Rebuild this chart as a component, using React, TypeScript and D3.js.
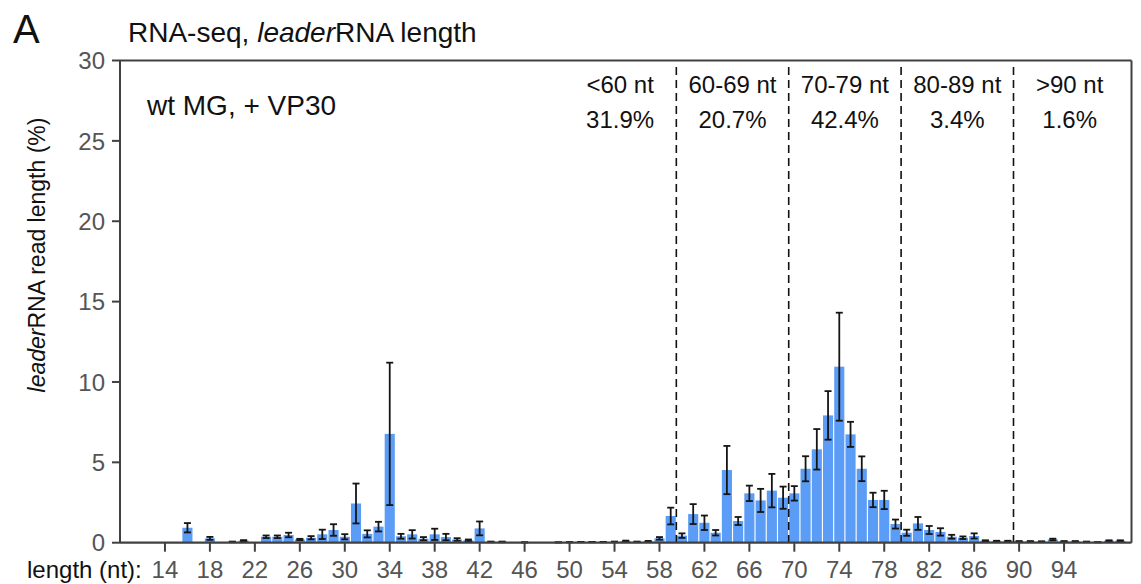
import React from "react";
import * as d3 from "d3";

// ---- data ----
const lengths = [16, 18, 20, 21, 23, 24, 25, 26, 27, 28, 29, 30, 31, 32, 33, 34, 35, 36, 37, 38, 39, 40, 41, 42, 43, 44, 46, 49, 50, 51, 52, 53, 54, 55, 56, 57, 58, 59, 60, 61, 62, 63, 64, 65, 66, 67, 68, 69, 70, 71, 72, 73, 74, 75, 76, 77, 78, 79, 80, 81, 82, 83, 84, 85, 86, 87, 88, 89, 90, 91, 92, 93, 94, 95, 96, 97, 98, 99];
const means = [0.93, 0.27, 0.05, 0.13, 0.37, 0.37, 0.48, 0.2, 0.31, 0.52, 0.79, 0.37, 2.44, 0.55, 1.0, 6.77, 0.4, 0.52, 0.25, 0.52, 0.35, 0.2, 0.15, 0.89, 0.05, 0.05, 0.02, 0.02, 0.03, 0.04, 0.04, 0.04, 0.05, 0.1, 0.05, 0.08, 0.27, 1.66, 0.44, 1.78, 1.24, 0.62, 4.52, 1.35, 3.07, 2.63, 3.24, 2.8, 3.07, 4.6, 5.81, 7.92, 10.95, 6.74, 4.6, 2.66, 2.66, 1.16, 0.62, 1.2, 0.79, 0.67, 0.37, 0.31, 0.42, 0.12, 0.1, 0.1, 0.08, 0.08, 0.07, 0.2, 0.08, 0.08, 0.05, 0.03, 0.12, 0.12];
const errors = [0.29, 0.09, 0.02, 0.03, 0.08, 0.08, 0.14, 0.04, 0.1, 0.29, 0.36, 0.16, 1.24, 0.22, 0.3, 4.43, 0.15, 0.26, 0.1, 0.35, 0.2, 0.08, 0.05, 0.43, 0.02, 0.02, 0.01, 0.01, 0.01, 0.01, 0.01, 0.01, 0.02, 0.03, 0.02, 0.03, 0.08, 0.52, 0.14, 0.62, 0.45, 0.17, 1.5, 0.25, 0.48, 0.72, 1.04, 0.69, 0.45, 0.78, 1.26, 1.51, 3.36, 0.78, 0.77, 0.45, 0.57, 0.28, 0.19, 0.4, 0.25, 0.23, 0.12, 0.08, 0.16, 0.03, 0.02, 0.02, 0.02, 0.02, 0.02, 0.05, 0.02, 0.02, 0.02, 0.01, 0.03, 0.03];
const xTicks = [14, 18, 22, 26, 30, 34, 38, 42, 46, 50, 54, 58, 62, 66, 70, 74, 78, 82, 86, 90, 94];
const yTicks = [0, 5, 10, 15, 20, 25, 30];
const dividers = [59.5, 69.5, 79.5, 89.5];
const groupCenters = [54.5, 64.5, 74.5, 84.5, 94.5];
const groupLabels = ["<60 nt", "60-69 nt", "70-79 nt", "80-89 nt", ">90 nt"];
const groupPercents = ["31.9%", "20.7%", "42.4%", "3.4%", "1.6%"];

const W = 1141;
const H = 584;
const FONT = "'Liberation Sans', Arial, Helvetica, sans-serif";

export default function App() {
  const x = d3.scaleLinear().domain([10, 100]).range([120, 1131.5]);
  const y = d3.scaleLinear().domain([0, 30]).range([542.7, 60.5]);
  const step = x(11) - x(10);
  const bw = step * 0.9;
  const capW = 7;
  const axisColor = "#404040";
  const tickColor = "#555555";

  return (
    <svg
      width={W}
      height={H}
      style={{ position: "absolute", left: 0, top: 0, background: "#fff" }}
      fontFamily={FONT}
    >
      {/* panel letter and title */}
      <text x={13} y={43} fontSize={40} fill="#111">A</text>
      <text x={128} y={42} fontSize={28} fill="#111">
        RNA-seq, <tspan fontStyle="italic">leader</tspan>RNA length
      </text>

      {/* bars */}
      {lengths.map((n, i) => (
        <rect
          key={"b" + n}
          x={x(n) - bw / 2}
          y={y(means[i])}
          width={bw}
          height={y(0) - y(means[i])}
          fill="#5B9CF6"
        />
      ))}

      {/* error bars */}
      {lengths.map((n, i) => {
        const top = y(means[i] + errors[i]);
        const bot = y(Math.max(0, means[i] - errors[i]));
        const cx = x(n);
        return (
          <g key={"e" + n} stroke="#151515" strokeWidth={1.8}>
            <line x1={cx} x2={cx} y1={top} y2={bot} />
            <line x1={cx - capW / 2} x2={cx + capW / 2} y1={top} y2={top} />
            <line x1={cx - capW / 2} x2={cx + capW / 2} y1={bot} y2={bot} />
          </g>
        );
      })}

      {/* dashed dividers */}
      {dividers.map((d) => (
        <line
          key={"d" + d}
          x1={x(d)}
          x2={x(d)}
          y1={y(29.6)}
          y2={y(0)}
          stroke="#111"
          strokeWidth={1.6}
          strokeDasharray="8,5"
        />
      ))}

      {/* group annotations */}
      {groupCenters.map((c, i) => (
        <g key={"g" + i} fontSize={24} fill="#111" textAnchor="middle">
          <text x={x(c)} y={93}>{groupLabels[i]}</text>
          <text x={x(c)} y={128}>{groupPercents[i]}</text>
        </g>
      ))}

      <text x={147} y={115} fontSize={28} fill="#111">wt MG, + VP30</text>

      {/* frame */}
      <line x1={x(10)} x2={x(100)} y1={y(30)} y2={y(30)} stroke={axisColor} strokeWidth={2} />
      <line x1={x(100)} x2={x(100)} y1={y(30)} y2={y(0)} stroke={axisColor} strokeWidth={2} />
      <line x1={x(10)} x2={x(10)} y1={y(30)} y2={y(0)} stroke={axisColor} strokeWidth={2} />
      <line x1={x(10)} x2={x(100)} y1={y(0)} y2={y(0)} stroke={axisColor} strokeWidth={2.2} />

      {/* y ticks */}
      {yTicks.map((t) => (
        <g key={"y" + t}>
          <line x1={x(10) - 8} x2={x(10)} y1={y(t)} y2={y(t)} stroke={axisColor} strokeWidth={2} />
          <text x={105} y={y(t)} dy="0.36em" textAnchor="end" fontSize={24} fill={tickColor}>
            {t}
          </text>
        </g>
      ))}

      {/* x ticks */}
      {xTicks.map((t) => (
        <g key={"x" + t}>
          <line x1={x(t)} x2={x(t)} y1={y(0)} y2={y(0) + 9} stroke={axisColor} strokeWidth={2} />
          <text x={x(t)} y={578} textAnchor="middle" fontSize={24} fill={tickColor}>
            {t}
          </text>
        </g>
      ))}
      <text x={27} y={578} fontSize={24} fill="#111">length (nt):</text>

      {/* y label */}
      <text
        transform={`translate(45, 255) rotate(-90)`}
        textAnchor="middle"
        fontSize={23}
        fill="#111"
      >
        <tspan fontStyle="italic">leader</tspan>RNA read length (%)
      </text>
    </svg>
  );
}
